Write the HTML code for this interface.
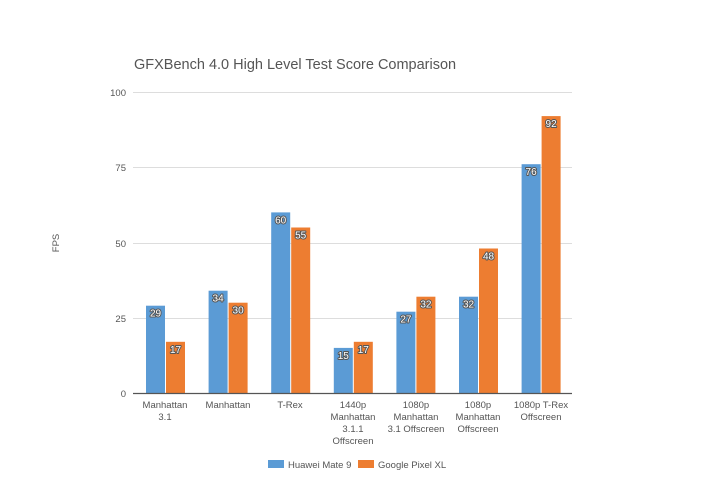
<!DOCTYPE html><html><head><style>body{margin:0;background:#fff}svg{display:block;font-family:"Liberation Sans",sans-serif}.l{font-size:10px;text-anchor:middle;fill:#fff;stroke:#555;stroke-width:2px;paint-order:stroke;stroke-linejoin:round}</style></head><body>
<svg width="704" height="484" viewBox="0 0 704 484">
<text x="134" y="69" font-size="14.5" fill="#555">GFXBench 4.0 High Level Test Score Comparison</text>
<g stroke="#ddd" stroke-width="1">
<line x1="133" x2="572" y1="92.5" y2="92.5"/><line x1="133" x2="572" y1="167.5" y2="167.5"/><line x1="133" x2="572" y1="243.5" y2="243.5"/><line x1="133" x2="572" y1="318.5" y2="318.5"/></g>
<g font-size="9.5" fill="#555" text-anchor="end"><text x="126" y="96">100</text><text x="126" y="171">75</text><text x="126" y="247">50</text><text x="126" y="322">25</text><text x="126" y="397">0</text></g>
<text transform="translate(59,243) rotate(-90)" font-size="9.5" fill="#555" text-anchor="middle">FPS</text>
<g fill="#5b9bd5">
<rect x="146" y="305.7" width="19" height="87.3"/>
<rect x="208.6" y="290.7" width="19" height="102.3"/>
<rect x="271.2" y="212.4" width="19" height="180.6"/>
<rect x="333.8" y="347.9" width="19" height="45.1"/>
<rect x="396.4" y="311.7" width="19" height="81.3"/>
<rect x="459" y="296.7" width="19" height="96.3"/>
<rect x="521.6" y="164.2" width="19" height="228.8"/>
</g>
<g fill="#ed7d31">
<rect x="166" y="341.8" width="19" height="51.2"/>
<rect x="228.6" y="302.7" width="19" height="90.3"/>
<rect x="291.2" y="227.5" width="19" height="165.5"/>
<rect x="353.8" y="341.8" width="19" height="51.2"/>
<rect x="416.4" y="296.7" width="19" height="96.3"/>
<rect x="479" y="248.5" width="19" height="144.5"/>
<rect x="541.6" y="116.1" width="19" height="276.9"/>
</g>
<text class="l" x="155.5" y="316.7">29</text>
<text class="l" x="175.5" y="352.8">17</text>
<text class="l" x="218.1" y="301.7">34</text>
<text class="l" x="238.1" y="313.7">30</text>
<text class="l" x="280.7" y="223.4">60</text>
<text class="l" x="300.7" y="238.5">55</text>
<text class="l" x="343.3" y="358.9">15</text>
<text class="l" x="363.3" y="352.8">17</text>
<text class="l" x="405.9" y="322.7">27</text>
<text class="l" x="425.9" y="307.7">32</text>
<text class="l" x="468.5" y="307.7">32</text>
<text class="l" x="488.5" y="259.5">48</text>
<text class="l" x="531.1" y="175.2">76</text>
<text class="l" x="551.1" y="127.1">92</text>
<line x1="133" x2="572" y1="393.5" y2="393.5" stroke="#555" stroke-width="1.2"/>
<g font-size="9.5" fill="#555" text-anchor="middle">
<text x="165" y="408">Manhattan</text><text x="165" y="420">3.1</text>
<text x="228" y="408">Manhattan</text>
<text x="290" y="408">T-Rex</text>
<text x="353" y="408">1440p</text><text x="353" y="420">Manhattan</text><text x="353" y="432">3.1.1</text><text x="353" y="444">Offscreen</text>
<text x="416" y="408">1080p</text><text x="416" y="420">Manhattan</text><text x="416" y="432">3.1 Offscreen</text>
<text x="478" y="408">1080p</text><text x="478" y="420">Manhattan</text><text x="478" y="432">Offscreen</text>
<text x="541" y="408">1080p T-Rex</text><text x="541" y="420">Offscreen</text>
</g>
<rect x="268" y="460" width="16" height="8" fill="#5b9bd5"/><text x="288" y="468" font-size="9.5" fill="#555">Huawei Mate 9</text>
<rect x="358" y="460" width="16" height="8" fill="#ed7d31"/><text x="378" y="468" font-size="9.5" fill="#555">Google Pixel XL</text>
</svg></body></html>
